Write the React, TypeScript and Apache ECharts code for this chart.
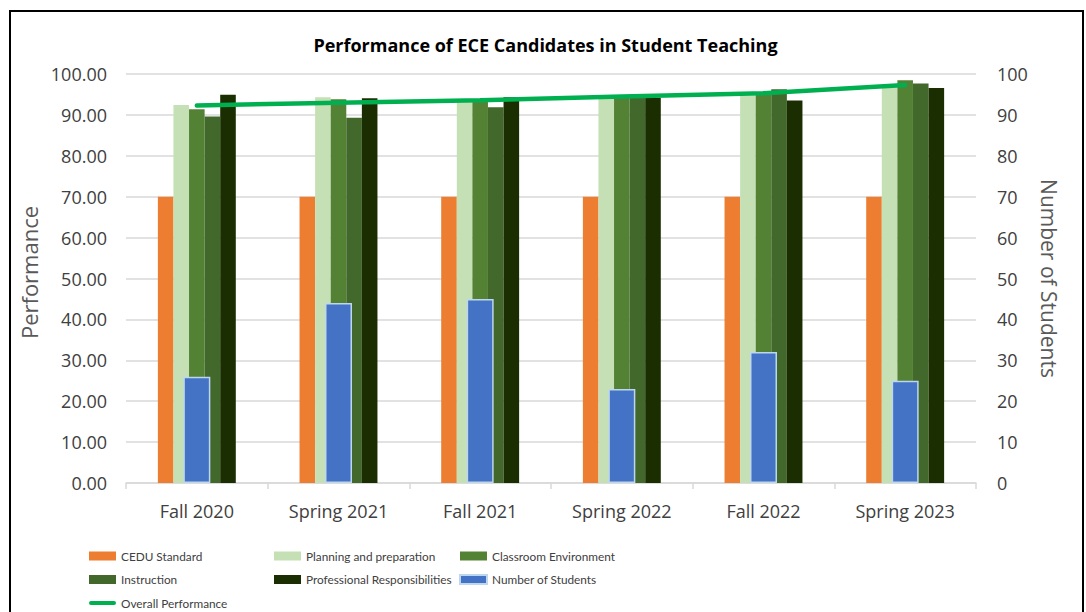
import React, { useEffect, useRef } from "react";
import * as echarts from "echarts";

const categories = ["Fall 2020", "Spring 2021", "Fall 2021", "Spring 2022", "Fall 2022", "Spring 2023"];
const ceduStandard = [70, 70, 70, 70, 70, 70];
const planning = [92.4, 94.3, 93.3, 94.3, 94.7, 97.5];
const classroom = [91.4, 93.8, 93.4, 94.8, 95.6, 98.5];
const instruction = [89.6, 89.3, 91.9, 94.6, 96.3, 97.7];
const professional = [94.9, 94.1, 94.3, 94.2, 93.5, 96.6];
const numberOfStudents = [26, 44, 45, 23, 32, 25];
const overall = [92.3, 93.0, 93.6, 94.5, 95.3, 97.3];

const TICK_FONT = "'Open Sans', 'Noto Sans', sans-serif";
const LEGEND_FONT = "Lato, 'Open Sans', sans-serif";
const LINE_ICON = "path://M2,0 L25,0 A2,2 0 0 1 25,4 L2,4 A2,2 0 0 1 2,0 Z";

export default function App() {
  const ref = useRef<HTMLDivElement>(null);
  useEffect(() => {
    if (!ref.current) return;
    const chart = echarts.init(ref.current, undefined, { renderer: "svg" });
    const legendText = { fontFamily: LEGEND_FONT, fontSize: 11.8, color: "#404040", lineHeight: 14 };
    const legendCommon = {
      orient: "vertical" as const,
      top: 549,
      itemWidth: 27,
      itemHeight: 9,
      itemGap: 9.5,
      textStyle: legendText,
      padding: 0,
    };
    const rectItem = (name: string) => ({ name, icon: "rect" });
    chart.setOption({
      animation: false,
      backgroundColor: "#ffffff",
      title: {
        text: "Performance of ECE Candidates in Student Teaching",
        left: 540.5,
        top: 31,
        textAlign: "center",
        textStyle: { fontFamily: TICK_FONT, fontSize: 18, fontWeight: "bold", color: "#000000" },
      },
      graphic: [
        {
          type: "rect",
          shape: { x: 10, y: 11, width: 1073, height: 700 },
          style: { fill: "none", stroke: "#000000", lineWidth: 2 },
          silent: true,
        },
      ],
      legend: [
        {
          ...legendCommon,
          left: 89,
          data: [rectItem("CEDU Standard"), rectItem("Instruction"), { name: "Overall Performance", icon: LINE_ICON }],
        },
        {
          ...legendCommon,
          left: 274,
          data: [rectItem("Planning and preparation"), rectItem("Professional Responsibilities")],
        },
        {
          ...legendCommon,
          left: 459,
          data: [rectItem("Classroom Environment"), rectItem("Number of Students")],
        },
      ],
      grid: { left: 126, right: 110, top: 74, bottom: 129, containLabel: false },
      xAxis: [
        {
          type: "category",
          data: categories,
          axisLine: { lineStyle: { color: "#d9d9d9", width: 1.5 } },
          axisTick: { show: true, length: 6, lineStyle: { color: "#d9d9d9", width: 1.5 } },
          axisLabel: { color: "#404040", fontFamily: TICK_FONT, fontSize: 18, margin: 19 },
        },
        {
          type: "category",
          data: categories,
          show: false,
        },
      ],
      yAxis: [
        {
          type: "value",
          min: 0,
          max: 100,
          interval: 10,
          name: "Performance",
          nameLocation: "middle",
          nameRotate: 90,
          nameGap: 82,
          nameTextStyle: { color: "#595959", fontFamily: TICK_FONT, fontSize: 22, padding: [0, 0, 0, 12] },
          axisLine: { show: false },
          axisTick: { show: false },
          axisLabel: {
            color: "#404040",
            fontFamily: TICK_FONT,
            fontSize: 18,
            margin: 19,
            formatter: (v: number) => v.toFixed(2),
          },
          splitLine: { lineStyle: { color: "#d9d9d9", width: 1.5 } },
        },
        {
          type: "value",
          min: 0,
          max: 100,
          interval: 10,
          position: "right",
          name: "Number of Students",
          nameLocation: "middle",
          nameRotate: -90,
          nameGap: 57,
          nameTextStyle: { color: "#595959", fontFamily: TICK_FONT, fontSize: 21 },
          axisLine: { show: false },
          axisTick: { show: false },
          axisLabel: { color: "#404040", fontFamily: TICK_FONT, fontSize: 18, margin: 21 },
          splitLine: { show: false },
        },
      ],
      series: [
        {
          name: "CEDU Standard",
          type: "bar",
          data: ceduStandard,
          barGap: "0%",
          barCategoryGap: "45%",
          itemStyle: { color: "#ED7D31" },
          z: 2,
        },
        {
          name: "Planning and preparation",
          type: "bar",
          data: planning,
          barGap: "0%",
          barCategoryGap: "45%",
          itemStyle: { color: "#C5E0B4" },
          z: 2,
        },
        {
          name: "Classroom Environment",
          type: "bar",
          data: classroom,
          barGap: "0%",
          barCategoryGap: "45%",
          itemStyle: { color: "#548235" },
          z: 2,
        },
        {
          name: "Instruction",
          type: "bar",
          data: instruction,
          barGap: "0%",
          barCategoryGap: "45%",
          itemStyle: { color: "#43682B" },
          z: 2,
        },
        {
          name: "Professional Responsibilities",
          type: "bar",
          data: professional,
          barGap: "0%",
          barCategoryGap: "45%",
          itemStyle: { color: "#1A2E02" },
          z: 2,
        },
        {
          name: "Number of Students",
          type: "bar",
          xAxisIndex: 1,
          yAxisIndex: 1,
          data: numberOfStudents,
          barWidth: 27,
          itemStyle: { color: "#4472C4", borderColor: "#BDD7EE", borderWidth: 1.5 },
          z: 3,
        },
        {
          name: "Overall Performance",
          type: "line",
          data: overall,
          symbol: "none",
          showSymbol: false,
          lineStyle: { color: "#00B050", width: 4.5, cap: "round" },
          itemStyle: { color: "#00B050" },
          z: 5,
        },
      ],
    });
    return () => chart.dispose();
  }, []);
  return <div ref={ref} style={{ position: "absolute", left: 0, top: 0, width: 1086, height: 612 }} />;
}
